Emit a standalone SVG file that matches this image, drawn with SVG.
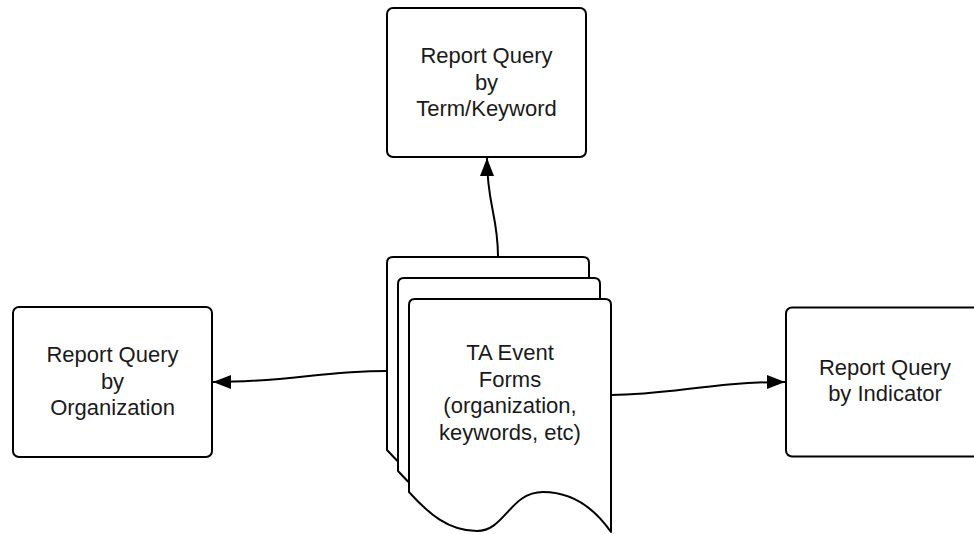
<svg xmlns="http://www.w3.org/2000/svg" width="974" height="534" viewBox="0 0 974 534">
<style>
.box{fill:#fff;stroke:#000;stroke-width:2}
.page{fill:#fff;stroke:#000;stroke-width:2;stroke-linejoin:round}
.lbl{font-family:"Liberation Sans",Arial,sans-serif;font-size:22px;fill:#1a1a1a;text-anchor:middle}
.conn{fill:none;stroke:#000;stroke-width:2}
</style>
<defs>
<marker id="arrow" markerUnits="userSpaceOnUse" markerWidth="18" markerHeight="14" refX="18" refY="7" orient="auto">
<path d="M0,0 L18,7 L0,14 Z" fill="#000"/>
</marker>
<path id="docshape" d="M409,492 L409,305 Q409,299 415,299 L605,299 Q611,299 611,305 L611,532 C597,512 575,492 543,492 C510,492 505,531 477,531 C448,531 428,513 409,492 Z"/>
</defs>
<rect width="974" height="534" fill="#fff"/>
<g id="connectors">
<path class="conn" d="M498,257 C498,215 487,205 487,158" marker-end="url(#arrow)"/>
<path class="conn" d="M387,371 C320,371 290,382 213,382" marker-end="url(#arrow)"/>
<path class="conn" d="M611,395 C670,395 710,382 785,382" marker-end="url(#arrow)"/>
</g>
<g id="node-term">
<rect class="box" x="387" y="8" width="199" height="149" rx="6"/>
<text class="lbl" x="486.5" y="63">Report Query</text>
<text class="lbl" x="486.5" y="89.5">by</text>
<text class="lbl" x="486.5" y="116">Term/Keyword</text>
</g>
<g id="node-org">
<rect class="box" x="13" y="307" width="199" height="150" rx="6"/>
<text class="lbl" x="112.5" y="362">Report Query</text>
<text class="lbl" x="112.5" y="388.5">by</text>
<text class="lbl" x="112.5" y="415">Organization</text>
</g>
<g id="node-indicator">
<rect class="box" x="786" y="307.5" width="199" height="149" rx="6"/>
<text class="lbl" x="885" y="375">Report Query</text>
<text class="lbl" x="885" y="401">by Indicator</text>
</g>
<g id="node-forms">
<use href="#docshape" class="page" transform="translate(-22,-42)"/>
<use href="#docshape" class="page" transform="translate(-11,-21)"/>
<use href="#docshape" class="page"/>
<text class="lbl" x="510" y="360">TA Event</text>
<text class="lbl" x="510" y="386.5">Forms</text>
<text class="lbl" x="510" y="413">(organization,</text>
<text class="lbl" x="510" y="439.5">keywords, etc)</text>
</g>
</svg>
